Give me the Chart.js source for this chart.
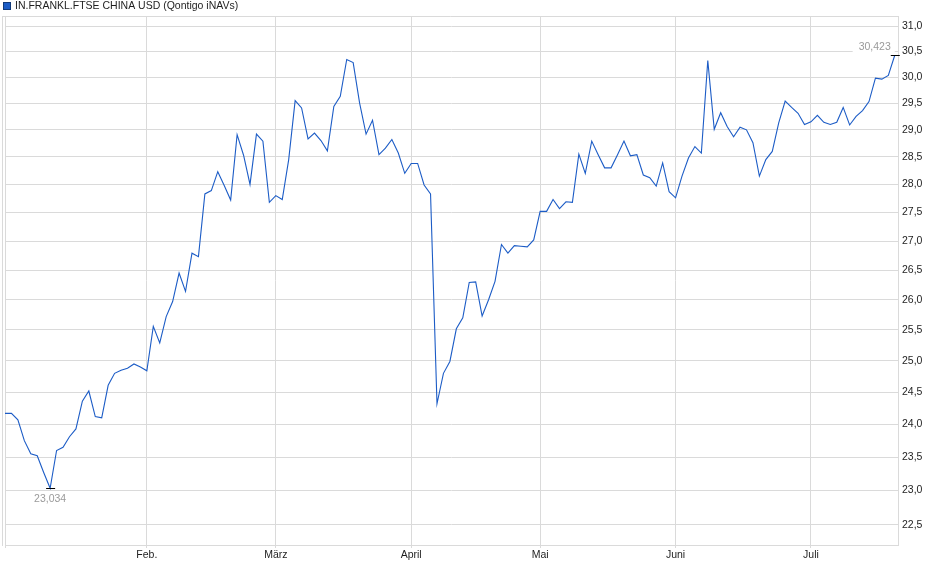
<!DOCTYPE html>
<html>
<head>
<meta charset="utf-8">
<script src="https://cdn.jsdelivr.net/npm/chart.js@4.4.1/dist/chart.umd.min.js"></script>
<style>
  html, body { margin: 0; padding: 0; background: #fff; }
  #wrap { position: relative; width: 940px; height: 579px; }
</style>
</head>
<body>
<div id="wrap"><canvas id="chartCanvas"></canvas></div>
<script>
// DATA
const seriesName = 'IN.FRANKL.FTSE CHINA USD (Qontigo iNAVs)';

// one value per trading day, 2 Jan - 18 Jul
const values = [
    24.17, 24.17, 24.07, 23.75, 23.55, 23.52, 23.27, 23.034, 23.60, 23.65,
    23.81, 23.93, 24.36, 24.52, 24.12, 24.10, 24.61, 24.80, 24.85, 24.88,
    24.95, 24.90, 24.84, 25.56, 25.29, 25.72, 25.97, 26.45, 26.14, 26.79,
    26.73, 27.83, 27.89, 28.23, 27.98, 27.72, 28.91, 28.53, 28.00, 28.92,
    28.79, 27.68, 27.80, 27.73, 28.45, 29.55, 29.41, 28.83, 28.94, 28.80,
    28.61, 29.44, 29.63, 30.34, 30.28, 29.50, 28.92, 29.18, 28.54, 28.66,
    28.82, 28.57, 28.20, 28.38, 28.38, 27.99, 27.83, 24.32, 24.80, 24.99,
    25.52, 25.70, 26.29, 26.30, 25.73, 26.00, 26.31, 26.94, 26.79, 26.92,
    26.91, 26.90, 27.02, 27.52, 27.52, 27.73, 27.57, 27.69, 27.68, 28.55,
    28.20, 28.79, 28.54, 28.30, 28.30, 28.54, 28.79, 28.52, 28.54, 28.17,
    28.12, 27.97, 28.39, 27.87, 27.76, 28.15, 28.48, 28.69, 28.57, 30.32,
    29.01, 29.32, 29.06, 28.87, 29.05, 29.00, 28.76, 28.15, 28.45, 28.60,
    29.13, 29.54, 29.42, 29.31, 29.10, 29.15, 29.27, 29.14, 29.10, 29.14,
    29.42, 29.09, 29.25, 29.36, 29.53, 29.98, 29.96, 30.03, 30.423
];

// first trading day of each month (index into values)
const monthIdx = [22, 42, 63, 83, 104, 125];
const monthLabels = ['Feb.', 'März', 'April', 'Mai', 'Juni', 'Juli'];

const yTicks = [22.5, 23.0, 23.5, 24.0, 24.5, 25.0, 25.5, 26.0, 26.5, 27.0, 27.5, 28.0, 28.5, 29.0, 29.5, 30.0, 30.5, 31.0];
const yMin = 22.21;
const yMax = 31.2;

// STYLE
const lineColor = '#1c5cc6';
const gridColor = '#dadada';
const textColor = '#1e1e1e';
const font = { family: '"Liberation Sans", Arial, sans-serif', size: 10.5 };

const fmt = (v, d) => v.toFixed(d).replace('.', ',');

// frame: top line and the double left edge
const framePlugin = {
    id: 'frame',
    beforeDatasetsDraw(chart) {
        const { ctx, chartArea: a } = chart;
        ctx.save();
        ctx.strokeStyle = gridColor;
        ctx.lineWidth = 1;
        ctx.beginPath();
        ctx.moveTo(a.left - 2.5, a.top + 0.5);
        ctx.lineTo(a.right, a.top + 0.5);
        ctx.moveTo(a.left - 2.5, a.top);
        ctx.lineTo(a.left - 2.5, a.bottom + 1);
        ctx.moveTo(a.left + 0.5, a.top);
        ctx.lineTo(a.left + 0.5, a.bottom + 3);
        ctx.stroke();
        ctx.restore();
    }
};

// min / max markers
const extremesPlugin = {
    id: 'extremes',
    afterDatasetsDraw(chart) {
        const { ctx } = chart;
        const pts = chart.getDatasetMeta(0).data;
        let lo = 0, hi = 0;
        values.forEach((v, i) => {
            if (v < values[lo]) lo = i;
            if (v > values[hi]) hi = i;
        });
        ctx.save();
        ctx.font = `${font.size}px ${font.family}`;
        ctx.strokeStyle = '#000';
        ctx.lineWidth = 1;

        // low
        const pl = pts[lo];
        const ly = Math.round(pl.y) + 0.5;
        ctx.beginPath();
        ctx.moveTo(pl.x - 4, ly);
        ctx.lineTo(pl.x + 5, ly);
        ctx.stroke();
        ctx.fillStyle = '#9a9a9a';
        ctx.textAlign = 'center';
        ctx.textBaseline = 'top';
        ctx.fillText(fmt(values[lo], 3), pl.x, ly + 5);

        // high
        const ph = pts[hi];
        const hy = Math.round(ph.y) + 0.5;
        const txt = fmt(values[hi], 3);
        const w = ctx.measureText(txt).width;
        ctx.fillStyle = '#fff';
        ctx.fillRect(ph.x - w - 10, hy - 14, w + 10, 12);
        ctx.beginPath();
        ctx.moveTo(ph.x - 4, hy);
        ctx.lineTo(ph.x + 5, hy);
        ctx.stroke();
        ctx.fillStyle = '#9a9a9a';
        ctx.textAlign = 'right';
        ctx.textBaseline = 'middle';
        ctx.fillText(txt, ph.x - 4, hy - 8);
        ctx.restore();
    }
};

// legend drawn in the top padding
const legendPlugin = {
    id: 'topLegend',
    afterDraw(chart) {
        const { ctx } = chart;
        ctx.save();
        ctx.fillStyle = lineColor;
        ctx.fillRect(3, 2, 8, 8);
        ctx.strokeStyle = '#123a7a';
        ctx.lineWidth = 1;
        ctx.strokeRect(3.5, 2.5, 7, 7);
        ctx.fillStyle = textColor;
        ctx.font = `${font.size}px ${font.family}`;
        ctx.textAlign = 'left';
        ctx.textBaseline = 'middle';
        ctx.fillText(chart.data.datasets[0].label, 15, 6.5);
        ctx.restore();
    }
};

const ctx = document.getElementById('chartCanvas').getContext('2d');

new Chart(ctx, {
    type: 'line',
    data: {
        datasets: [{
            label: seriesName,
            data: values.map((v, i) => ({ x: i, y: v })),
            borderColor: lineColor,
            borderWidth: 1.1,
            pointRadius: 0,
            tension: 0,
            fill: false
        }]
    },
    options: {
        responsive: true,
        maintainAspectRatio: false,
        animation: false,
        layout: { padding: { left: 5, top: 16, right: 0, bottom: 0 } },
        plugins: {
            legend: { display: false },
            tooltip: { enabled: false }
        },
        scales: {
            x: {
                type: 'linear',
                min: 0,
                max: values.length - 0.5,
                afterBuildTicks: (axis) => { axis.ticks = monthIdx.map(v => ({ value: v })); },
                afterFit: (axis) => { axis.height = 34; },
                grid: { color: gridColor, tickLength: 3, tickColor: gridColor },
                border: { color: gridColor },
                ticks: {
                    autoSkip: false,
                    maxRotation: 0,
                    padding: 1,
                    color: textColor,
                    font: font,
                    callback: (v) => monthLabels[monthIdx.indexOf(v)] || ''
                }
            },
            y: {
                type: 'logarithmic',
                position: 'right',
                min: yMin,
                max: yMax,
                afterBuildTicks: (axis) => { axis.ticks = yTicks.map(v => ({ value: v })); },
                afterFit: (axis) => { axis.width = 42; },
                grid: { color: gridColor, drawTicks: false },
                border: { color: gridColor },
                ticks: {
                    padding: 4,
                    color: textColor,
                    font: font,
                    callback: (v) => fmt(v, 1)
                }
            }
        }
    },
    plugins: [framePlugin, extremesPlugin, legendPlugin]
});
</script>
</body>
</html>
